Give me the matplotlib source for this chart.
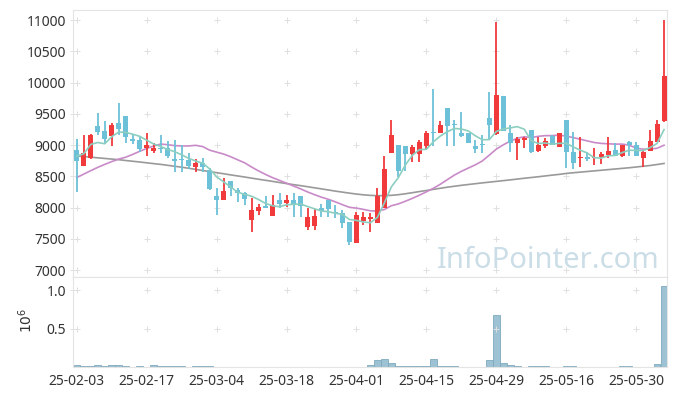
import matplotlib

matplotlib.use("Agg")
import matplotlib.pyplot as plt
import numpy as np
import pandas as pd

plt.rcParams["font.family"] = ["Noto Sans", "DejaVu Sans"]

UP = "#f03a3c"
DOWN = "#6cc1d9"
MA5_C = "#8ccfc0"
MA20_C = "#c98ac8"
MA_LONG_C = "#9a9a9a"
VOL_C = "#9dc2d3"
VOL_EDGE = "#7eaabd"
FRAME = "#e4e4e4"
CROSS = "#e0e0e0"
TXT = "#333333"

# trading days (KRX), holidays removed
holidays = ["2025-03-03", "2025-05-01", "2025-05-05", "2025-05-06",
            "2025-06-03", "2025-06-06"]
dates = pd.bdate_range("2025-02-03", periods=85, freq="C", holidays=holidays)

opens = [8920, 8670, 8790, 9300, 9220, 9150, 9350, 9460, 9090, 9080,
         8955, 8910, 8945, 8960, 8775, 8765, 8760, 8655, 8715, 8600,
         8190, 8120, 8425, 8280, 8225, 7800, 7950, 8010, 7870, 8120,
         8065, 8120, 8185, 7695, 7710, 7985, 8120, 7935, 7905, 7770,
         7440, 7785, 7820, 7760, 7990, 8875, 9000, 8985, 8855, 8855,
         8985, 9195, 9195, 9590, 9325, 9200, 9190, 8985, 9005, 9425,
         9170, 9785, 9190, 9030, 9080, 9240, 8905, 8985, 9150, 8975,
         9400, 8895, 8790, 8805, 8795, 8805, 8840, 8920, 8830, 9055,
         9000, 8790, 8910, 9055, 9385]
highs = [9100, 9160, 9180, 9520, 9380, 9360, 9680, 9470, 9170, 9150,
         9200, 9030, 9160, 9070, 9075, 9000, 8870, 8770, 8790, 8630,
         8305, 8480, 8430, 8320, 8255, 8145, 8055, 8185, 8200, 8225,
         8200, 8225, 8190, 8000, 7980, 8050, 8125, 8040, 7960, 7775,
         7935, 7935, 7910, 8305, 8825, 9400, 9005, 8990, 9000, 9080,
         9230, 9890, 9390, 9590, 9400, 9530, 9195, 9080, 9160, 9855,
         10975, 9790, 9320, 9135, 9135, 9245, 9135, 9115, 9155, 9190,
         9400, 9215, 9135, 8885, 8955, 8895, 9125, 9030, 9005, 9060,
         9055, 8900, 9240, 9400, 11000]
lows = [8250, 8660, 8780, 9160, 9040, 8990, 9160, 9030, 9015, 8890,
        8830, 8870, 8880, 8785, 8575, 8565, 8615, 8565, 8575, 8280,
        7880, 8115, 8190, 8085, 8040, 7615, 7880, 7985, 7870, 7985,
        8010, 7850, 7850, 7640, 7640, 7845, 7845, 7825, 7665, 7400,
        7435, 7720, 7605, 7755, 7985, 8870, 8495, 8590, 8735, 8735,
        8920, 8990, 9190, 8990, 8985, 9130, 9025, 8865, 8865, 9080,
        9165, 9225, 8895, 8760, 8945, 8880, 8890, 8950, 8995, 8970,
        8625, 8615, 8645, 8750, 8680, 8690, 8785, 8825, 8805, 8830,
        8825, 8645, 8905, 9050, 9365]
closes = [8750, 8880, 9160, 9210, 9100, 9320, 9250, 9130, 9065, 8930,
          9005, 8950, 8930, 8830, 8750, 8755, 8670, 8715, 8655, 8295,
          8120, 8265, 8315, 8225, 8135, 7960, 8005, 8000, 8040, 8055,
          8120, 8040, 8025, 7845, 7865, 7950, 7975, 7905, 7755, 7455,
          7880, 7845, 7850, 8185, 8615, 9160, 8590, 8855, 8965, 9055,
          9195, 9185, 9320, 9310, 9315, 9150, 9030, 8935, 8995, 9320,
          9800, 9230, 9025, 9095, 9115, 8885, 9000, 9065, 9000, 9185,
          8885, 8715, 8805, 8775, 8805, 8850, 8905, 8830, 9000, 9000,
          8830, 8895, 9065, 9335, 10105]
# volume, millions of shares
volume = [0.020, 0.018, 0.008, 0.030, 0.008, 0.020, 0.032, 0.010, 0.0, 0.008,
          0.0, 0.020, 0.010, 0.010, 0.010, 0.008, 0.0, 0.008, 0.008, 0.008,
          0.006, 0.0, 0.006, 0.0, 0.006, 0.0, 0.0, 0.0, 0.0, 0.0,
          0.0, 0.0, 0.0, 0.006, 0.0, 0.0, 0.0, 0.0, 0.006, 0.0,
          0.0, 0.0, 0.020, 0.085, 0.110, 0.050, 0.010, 0.008, 0.008, 0.008,
          0.008, 0.110, 0.008, 0.008, 0.008, 0.0, 0.006, 0.0, 0.0, 0.085,
          0.670, 0.055, 0.020, 0.008, 0.0, 0.008, 0.008, 0.008, 0.0, 0.0,
          0.008, 0.008, 0.0, 0.0, 0.006, 0.0, 0.006, 0.0, 0.008, 0.008,
          0.0, 0.0, 0.006, 0.045, 1.050]

# moving-average values before enough history is on the chart
ma5_early = [8820, 8860, 9010, 9040]
ma20_early = [8480, 8535, 8590, 8643, 8690, 8735, 8775, 8805, 8850, 8900,
              8945, 8985, 9015, 9005, 8990, 8985, 8985, 8995, 8975]
ma_long = [8825, 8815, 8805, 8795, 8785, 8775, 8765, 8752, 8740, 8728,
           8715, 8702, 8690, 8675, 8660, 8645, 8628, 8610, 8592, 8575,
           8557, 8540, 8522, 8505, 8488, 8470, 8452, 8435, 8418, 8400,
           8383, 8366, 8350, 8333, 8315, 8298, 8280, 8262, 8246, 8230,
           8215, 8203, 8194, 8190, 8190, 8195, 8205, 8220, 8237, 8255,
           8272, 8290, 8308, 8325, 8340, 8355, 8368, 8381, 8394, 8406,
           8418, 8430, 8442, 8455, 8468, 8480, 8492, 8505, 8518, 8530,
           8545, 8556, 8566, 8576, 8586, 8596, 8606, 8616, 8626, 8636,
           8648, 8660, 8672, 8688, 8705]

price_ticks = [7000, 7500, 8000, 8500, 9000, 9500, 10000, 10500, 11000]
vol_ticks = [0.5, 1.0]

o = np.array(opens, float)
h = np.array(highs, float)
l = np.array(lows, float)
c = np.array(closes, float)
x = np.arange(len(c))

ma5 = pd.Series(c).rolling(5).mean().to_numpy()
ma5[:4] = ma5_early
ma20 = pd.Series(c).rolling(20).mean().to_numpy()
ma20[:19] = ma20_early

fig = plt.figure(figsize=(6.77, 3.96), dpi=100)
ax = fig.add_axes([0.108, 0.3005, 0.877, 0.6742])
axv = fig.add_axes([0.108, 0.0732, 0.877, 0.2273], sharex=ax)

up = c >= o
col = np.where(up, UP, DOWN)
ax.vlines(x, l, h, colors=col, lw=1.3, zorder=3)
body = np.maximum(np.abs(c - o), 18)
ax.bar(x, body, bottom=np.minimum(o, c), width=0.72, color=col, zorder=4)

ax.plot(x, ma_long, color=MA_LONG_C, lw=1.2, zorder=2)
ax.plot(x, ma20, color=MA20_C, lw=1.2, zorder=2)
ax.plot(x, ma5, color=MA5_C, lw=1.2, zorder=5)

axv.bar(x, volume, width=0.95, color=VOL_C, edgecolor=VOL_EDGE, lw=0.6)

xt = list(range(0, len(c), 10))
for a, yt in ((ax, price_ticks), (axv, vol_ticks)):
    gx, gy = np.meshgrid(xt + [-0.53], yt)
    a.scatter(gx.ravel(), gy.ravel(), marker="+", s=20, lw=0.7,
              color=CROSS, zorder=1, clip_on=False)
    for s in a.spines.values():
        s.set_color(FRAME)
    a.tick_params(length=0, colors=TXT, labelsize=10)

ax.set_xlim(-0.53, 84.4)
ax.set_ylim(6888, 11160)
ax.set_yticks(price_ticks)
ax.tick_params(labelbottom=False, pad=5)

axv.set_ylim(0, 1.17)
axv.set_yticks(vol_ticks)
axv.set_xticks(xt)
axv.set_xticklabels([dates[i].strftime("%y-%m-%d") for i in xt])
axv.tick_params(pad=5)
fig.text(0.04, 0.19, r"$10^6$", rotation=90, ha="center", va="center",
         fontsize=10, color=TXT)

fig.text(0.975, 0.323, "InfoPointer.com", ha="right", va="baseline",
         fontsize=21, color="#cbdde6", zorder=6)

fig.savefig("out.png", dpi=100, facecolor="white")
